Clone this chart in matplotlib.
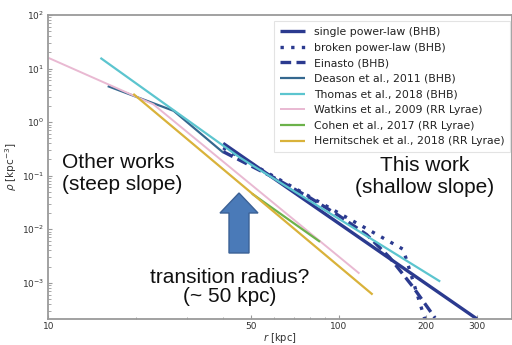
import numpy as np
import matplotlib
matplotlib.use("Agg")
import matplotlib.pyplot as plt
import matplotlib.patches as mpatches
from matplotlib.transforms import IdentityTransform
from matplotlib.ticker import FixedLocator, FixedFormatter, LogLocator, NullFormatter


# radii [kpc] and densities [kpc^-3]
SPL_R = [40, 300]
SPL_RHO = [0.40, 2.1e-4]

BPL_R = [40, 167, 200]
BPL_RHO = [0.33, 4.2e-3, 1.8e-4]

EIN_R = [40, 60, 80, 100, 125, 150, 180, 215]
EIN_RHO = [0.28, 0.091, 0.038, 0.018, 7.9e-3, 2.95e-3, 8.5e-4, 2.2e-4]

DEASON_R = [16, 27, 40]
DEASON_RHO = [4.7, 1.62, 0.27]

THOMAS_R = [15.1, 45.8, 224]
THOMAS_RHO = [15.8, 0.215, 1.05e-3]

WATKINS_R = [10, 23, 118]
WATKINS_RHO = [15.8, 2.14, 1.48e-3]

COHEN_R = [50.3, 86.3]
COHEN_RHO = [0.046, 5.8e-3]

HERN_R = [19.6, 131]
HERN_RHO = [3.36, 6.0e-4]

X_TICKS = [10, 50, 100, 200, 300]

NAVY = "#2b3a8f"

SERIES = [
    ("single power-law (BHB)", SPL_R, SPL_RHO, dict(color=NAVY, lw=2.4, ls="-")),
    ("broken power-law (BHB)", BPL_R, BPL_RHO, dict(color=NAVY, lw=2.4, ls=(0, (1, 2.2)))),
    ("Einasto (BHB)", EIN_R, EIN_RHO, dict(color=NAVY, lw=2.4, ls=(0, (3.2, 1.6)))),
    ("Deason et al., 2011 (BHB)", DEASON_R, DEASON_RHO, dict(color="#35688f", lw=1.6)),
    ("Thomas et al., 2018 (BHB)", THOMAS_R, THOMAS_RHO, dict(color="#5cc5cf", lw=1.6)),
    ("Watkins et al., 2009 (RR Lyrae)", WATKINS_R, WATKINS_RHO, dict(color="#e9b9d2", lw=1.4)),
    ("Cohen et al., 2017 (RR Lyrae)", COHEN_R, COHEN_RHO, dict(color="#6cb24a", lw=1.6)),
    ("Hernitschek et al., 2018 (RR Lyrae)", HERN_R, HERN_RHO, dict(color="#d9b23a", lw=1.6)),
]


fig = plt.figure(figsize=(5.12, 3.45), dpi=100)
ax = fig.add_axes([0.0947, 0.0754, 0.9053, 0.8812])

for label, r, rho, style in SERIES:
    ax.plot(r, rho, label=label, solid_capstyle="butt", **style)

ax.set_xscale("log")
ax.set_yscale("log")
ax.set_xlim(10, 396)
ax.set_ylim(2.1e-4, 100)

ax.xaxis.set_major_locator(FixedLocator(X_TICKS))
ax.xaxis.set_major_formatter(FixedFormatter([str(t) for t in X_TICKS]))
ax.xaxis.set_minor_locator(LogLocator(subs=np.arange(2, 10)))
ax.xaxis.set_minor_formatter(NullFormatter())

for s in ax.spines.values():
    s.set_color("#9a9a9a")
    s.set_linewidth(1.3)

ax.tick_params(which="both", direction="in", colors="#9a9a9a", labelcolor="#333333",
               labelsize=6.5)
ax.tick_params(axis="x", pad=2)
ax.tick_params(axis="y", pad=3)
ax.tick_params(which="major", length=3)
ax.tick_params(which="minor", length=1.8)

ax.set_xlabel("$r$ [kpc]", fontsize=7.2, color="#333333", labelpad=0)
ax.set_ylabel("$\\rho$ [kpc$^{-3}$]", fontsize=7.5, color="#333333", labelpad=2)

leg = ax.legend(loc="upper right", bbox_to_anchor=(0.996, 0.98), borderaxespad=0,
                fontsize=7.8, handlelength=2.3, labelspacing=0.52, frameon=True,
                fancybox=False, borderpad=0.55)
leg.get_frame().set_edgecolor("#dddddd")
leg.get_frame().set_linewidth(0.8)
for t in leg.get_texts():
    t.set_color("#222222")

# annotation texts
big = dict(fontsize=15, family="Liberation Sans", color="#111111", transform=ax.transAxes)
ax.text(0.029, 0.477, "Other works\n(steep slope)", ha="left", va="center", **big)
ax.text(0.812, 0.469, "This work\n(shallow slope)", ha="center", va="center",
        multialignment="center", **big)
ax.text(0.391, 0.105, "transition radius?\n(~ 50 kpc)", ha="center", va="center",
        multialignment="center", linespacing=1.05, **big)

# block arrow, in pixel coordinates
arrow = mpatches.FancyArrow(239, 92, 0, 60, width=20, head_width=38, head_length=20,
                            length_includes_head=True, facecolor="#4a7ab8",
                            edgecolor="#3b6196", linewidth=1.0,
                            transform=IdentityTransform())
fig.patches.append(arrow)

fig.savefig("out.png", dpi=100)
